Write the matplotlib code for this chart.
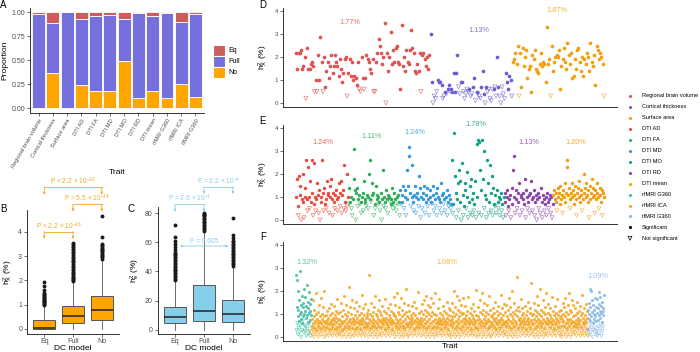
import numpy as np
import matplotlib.pyplot as plt

plt.rcParams['font.family'] = ['Liberation Sans', 'DejaVu Sans']
plt.rcParams['mathtext.default'] = 'regular'

# ---- panel A: proportion of DC model per trait group
traits_a = ['Regional brain volume', 'Cortical thickness', 'Surface area', 'DTI AD', 'DTI FA',
            'DTI MD', 'DTI MO', 'DTI RD', 'DTI mean', 'rfMRI G360', 'rfMRI ICA', 'tfMRI G360']
prop_no = [0.0, 0.365, 0.0, 0.24, 0.18, 0.18, 0.49, 0.105, 0.175, 0.10, 0.255, 0.12]
prop_full = [0.985, 0.525, 1.0, 0.695, 0.785, 0.79, 0.435, 0.885, 0.785, 0.89, 0.64, 0.86]
prop_eq = [0.015, 0.11, 0.0, 0.065, 0.035, 0.03, 0.075, 0.01, 0.04, 0.01, 0.105, 0.02]

# ---- panels B/C: box summaries per DC model
dc_models = ['Eq', 'Full', 'No']
b_q1 = [0.0, 0.26, 0.38]
b_med = [0.02, 0.54, 0.78]
b_q3 = [0.38, 0.93, 1.37]
b_hi = [0.95, 1.93, 2.85]
b_fliers = [
    [1.0, 1.03, 1.06, 1.1, 1.13, 1.17, 1.2, 1.24, 1.28, 1.32, 1.36, 1.4, 1.45, 1.5, 1.62, 1.78, 1.92],
    [1.96, 2.0, 2.05, 2.1, 2.15, 2.2, 2.25, 2.3, 2.36, 2.42, 2.48, 2.55, 2.6, 2.67, 2.74, 2.8,
     2.86, 2.92, 2.98, 3.05, 3.12, 3.18, 3.25, 3.3, 3.36, 3.42, 3.48, 3.52],
    [2.9, 2.95, 3.0, 3.05, 3.1, 3.15, 3.2, 3.25, 3.3, 3.35, 3.4, 3.45, 3.5, 3.8, 4.65],
]
c_q1 = [4.4, 6.0, 5.0]
c_med = [8.5, 12.9, 10.6]
c_q3 = [15.9, 30.8, 20.6]
c_hi = [33.0, 67.0, 43.0]
c_fliers = [
    [34, 35, 36, 37, 38, 39, 40, 41, 42, 43, 44, 45, 46, 47, 48, 49, 50, 51, 52, 53, 55, 57, 59, 61, 64, 72],
    [68, 69, 70, 71, 72, 73, 74, 75, 76, 77, 78, 78.5, 79, 79.5, 80],
    [44, 45, 46, 47, 48, 49, 50, 51, 52, 53, 54, 55, 56, 57, 58, 59, 60, 61, 63, 65, 77],
]
b_pvals = [('P < 2.2 × 10$^{-16}$', 1, 2, 4.01, 3.71), ('P = 5.5 × 10$^{-14}$', 2, 3, 5.14, 4.84),
           ('P < 2.2 × 10$^{-16}$', 1, 3, 5.84, 5.53)]
c_pvals = [('P = 2.2 × 10$^{-4}$', 2, 3, 98.3, 93.3), ('P = 2.6 × 10$^{-4}$', 1, 2, 86.2, 81.1)]

# ---- panels D/E/F: h2X per trait, tenths of %, "o" = not significant
rbv = ("22 15 22 22 23 15 16 20 o2 24 15 15 17 18 16 o5 10 o5 21 10 29 18 o5 20 7 14 18 11 16 21 13 16 "
       "21 18 16 12 19 15 9 13 19 20 o3 13 19 12 18 10 12 11 8 18 o6 o5 20 11 o6 11 21 19 18 15 13 19 o5 "
       "o5 18 22 28 25 22 17 20 35 o0 22 14 20 31 17 23 18 24 25 18 17 6 34 16 20 14 23 18 17 23 32 24 22 "
       "14 13 17 14 22 o5 21 22 19 16 20 15 21")
ct = ("30 9 o0 o3 o2 o5 10 9 9 8 o2 o3 5 o4 6 8 o5 6 5 13 5 13 21 o7 o4 9 9 o5 o2 o4 o6 o5 6 o3 o4 7 11 "
      "o1 5 o4 o3 o2 7 14 4 o0 7 o5 o6 o2 o1 o6 6 o7 o3 20 7 o3 o0 o7 o4 o2 13 9 6 12 10 o3")
sa = ("18 19 22 17 25 o3 22 7 24 16 20 23 11 15 16 5 21 19 23 15 14 13 17 22 16 18 17 9 33 17 19 o3 25 14 "
      "18 20 21 20 23 6 16 19 24 18 15 26 21 17 22 11 12 19 15 23 24 18 14 20 12 19 17 22 20 14 26 18 16 "
      "21 8 25 23 19 22 20 17 o3")
dti_ad = ("10 18 6 o2 19 11 15 o0 9 20 8 o1 14 10 26 9 o4 23 10 o5 17 8 26 12 o2 7 25 10 o4 9 16 11 o3 13 "
          "o0 8 10 26 12 o4 14 7 9 o5 17 11 12 o3 10 15 18 9 o2 12 8 o5 11 13 9 o4 10 16 12 o6 17 o3 11 13 "
          "o5 24 8 o4 20 o6 10")
dti_fa = ("14 o7 8 10 o5 o2 9 31 18 13 o0 12 14 o6 9 11 o7 8 o3 10 12 o4 17 9 8 o6 11 10 o5 20 9 26 o8 11 "
          "16 12 o2 7 o5 15 9 11 10 o7 8 o4 12 o0 9 22 o6 10 8 o5 13 9 o3 11 10 o8 7 9 14 o5 8 12 o6 9 o4 "
          "10 11 o7 8 o2")
dti_md = ("13 o7 8 11 15 o5 10 13 o2 22 9 15 28 32 12 o6 10 24 8 o4 11 15 o3 10 12 9 o6 19 14 o1 10 o5 9 "
          "12 15 o3 8 11 14 o6 9 o2 13 10 8 o7 15 11 o4 9 o6 12 o2 14 10 9 o5 8 16 o3 11 12 o7 9 o4 10 13 "
          "o2 8 o6 11 9 o5 7")
dti_mo = ("26 o3 7 38 19 12 o1 9 16 o4 22 8 17 o0 25 11 o2 6 16 13 o5 21 10 o1 8 15 o3 18 9 o2 12 o4 7 17 "
          "o1 10 33 35 o3 34 22 13 o2 35 18 30 o5 11 9 o1 26 16 o3 8 24 12 o4 19 o2 14 7 o6 11 o3 13 8 o5 "
          "10 o2 9 12 o4 7 o1 10")
dti_rd = ("12 8 o2 10 13 6 o4 9 11 o1 14 7 22 28 10 o3 13 9 o5 12 8 16 o2 11 10 o4 9 12 7 18 o1 13 10 o5 8 "
          "11 o3 12 17 9 o4 10 13 o2 8 11 o0 9 12 o5 10 o3 14 8 o1 11 9 o4 7 10 o2 12 8 o5 9 11 o3 10 o1 7")
dti_mean = ("11 13 9 12 8 o4 14 10 12 7 15 9 11 o3 13 10 16 8 12 26 23 11 14 9 o5 12 16 10 13 7 11 15 9 o2 "
            "12 14 10 17 8 13 11 o4 9 12 20 14 10 16 11 8 13 o1 15 9 12 18 10 14 11 o3 13 9 16 12 10 o5 14 "
            "11 8 13 o2 12 10")
rf_g360 = ("27 o3 13 25 o6 9 o1 20 12 o4 7 16 o2 10 29 o5 14 8 o0 11 18 o3 6 13 o7 9 15 o2 10 21 o5 "
           "o2.5 11.5 17.5 o4.5 8.5 13.5 o0.5 22.5 9.5 o3.5 15.5 6.5 o1.5 12.5 19.5 o5.5 10.5 7.5 o2.5 "
           "14.5 11.5 o0.5 16.5 9.5")
rf_ica = (
    "o2 5 o4 8 o1 16 6 o3 9 o0 4 12 o5 7 o2 10 o6 3 19 o1 8 o4 6 11 o3 5 o0 14 7 o2 9 o5 4 17 o1 6 o3 10 8 o6 5 o2 13 o4 7 o0 9 20 o3 6 "
    "o2.5 6.5 o0.5 9.5 4.5 o3.5 11.5 7.5 o1.5 5.5 o4.5 8.5 12.5 o0.5 3.5 o5.5 6.5 9.5 o2.5 14.5 5.5 o1.5 7.5 o3.5 10.5 4.5 o0.5 8.5 o6.5 5.5 13.5 o2.5 7.5 o4.5 9.5 3.5 o1.5 11.5 6.5 o5.5 8.5 o0.5 4.5 16.5 o3.5 7.5 o2.5 10.5 5.5 o1.5 "
    "o1 8 11 o4 5 o2 7 15 o5 3 o0 9 6 o3 12 o1 4 18 o6 7 o2 10 5 o4 8 o0 14 6 o3 9 o5 11 4 o1 7 22 o2 5 o4 13 8 o0 6 o3 10 o6 4 16 o1 7 "
    "8.5 o4.5 5.5 12.5 o0.5 7.5 o2.5 9.5 3.5 o5.5 6.5 15.5 o1.5 8.5 o3.5 4.5 11.5 o0.5 6.5 o6.5 9.5 5.5 o2.5 13.5 7.5 o4.5 3.5 o1.5 10.5 6.5 o0.5 8.5 18.5 o3.5 5.5 o5.5 7.5 12.5 o2.5 4.5 o1.5 9.5 6.5 o0.5 14.5 o4.5 8.5 5.5 o3.5 10.5 "
    "o4 9 5 o2 12 o0 6 o5 8 27 o3 4 10 o1 7 o6 15 5 o2 9 o4 6 11 o0 8 o3 5 13 o5 7 o1 18 4 o2 10 6 o4 9 o0 12 o6 5 8 o3 16 o1 7 o5 11 "
    "o1.5 7.5 4.5 o3.5 9.5 o0.5 6.5 13.5 o5.5 8.5 o2.5 5.5 11.5 o4.5 7.5 o1.5 3.5 16.5 o6.5 6.5 o0.5 10.5 8.5 o3.5 5.5 o2.5 12.5 7.5 o4.5 4.5 o1.5 9.5 o5.5 6.5 14.5 o0.5 8.5 o3.5 5.5 11.5 o2.5 7.5 o6.5 3.5 10.5 o1.5 6.5 o4.5 9.5 17.5 "
    "6 o2 9 o0 14 5 o4 8 o1 19 6 o3 11 o5 7 4 o2 10 o6 13 o0 5 8 o3 17 o1 6 9 o4 12 5 o2 7 o0 15 o5 10 4 o3 8 o1 21 6 o4 11 o2 5 9 o6 14 o0 "
    "5.5 o0.5 8.5 o3.5 11.5 6.5 o1.5 4.5 o5.5 9.5 7.5 o2.5 13.5 o4.5 5.5 8.5 o0.5 10.5 o6.5 6.5 3.5 o1.5 15.5 o3.5 7.5 9.5 o2.5 4.5 o5.5 12.5 6.5 o0.5 8.5 o4.5 5.5 19.5 o1.5 7.5 o3.5 10.5 4.5 o2.5 6.5 o6.5 11.5 8.5 o0.5 5.5 o4.5 14.5 "
    "7 o3 10 o1 5 16 o4 8 o2 12 6 o5 9 o0 18 4 o3 11 o6 7 o1 14 5 o2 10 o4 8 13 o0 6 o3 17 o5 9 4 o1 11 o2 7 o6 15 o4 5 10 o0 8 o3 19 o1 6 "
    "o3.5 9.5 6.5 o1.5 4.5 o5.5 12.5 7.5 o0.5 8.5 o2.5 5.5 16.5 o4.5 6.5 o3.5 10.5 3.5 o1.5 7.5 o6.5 9.5 o0.5 5.5 13.5 o2.5 8.5 o4.5 6.5 11.5 o1.5 4.5 o3.5 7.5 o5.5 10.5 5.5 o0.5 15.5 8.5 o2.5 6.5 o4.5 9.5 3.5 o1.5 12.5 7.5 o0.5 5.5 "
    "o5 12 o2 7 9 o0 5 15 o4 8 o1 11 6 o3 20 o6 9 4 o2 13 o0 7 o5 10 18 o1 5 o3 8 12 o4 6 o2 16 9 o0 4 o6 11 7 o1 14 o3 5 10 o5 8 o2 17 "
    "10.5 o2.5 6.5 o4.5 8.5 o0.5 13.5 5.5 o3.5 7.5 o1.5 9.5 4.5 o6.5 11.5 o2.5 6.5 17.5 o0.5 8.5 o5.5 5.5 o3.5 10.5 7.5 o1.5 12.5 o4.5 6.5 3.5 o2.5 9.5 o0.5 14.5 5.5 o6.5 8.5 o1.5 7.5 o3.5 11.5 4.5 o5.5 6.5 o0.5 9.5 o2.5 20.5 7.5 o4.5 "
    "4 o0 9 o3 13 6 o1 8 o5 11 o2 16 5 o4 7 o6 10 19 o0 6 o3 12 o1 8 5 o2 15 o5 9 o4 7 11 o0 6 o6 14 o3 4 o1 10 8 o2 18 o5 7 12 o4 5 o0 9 "
    "o0.5 6.5 9.5 o3.5 5.5 o1.5 12.5 8.5 o4.5 4.5 o2.5 10.5 7.5 o5.5 15.5 o0.5 6.5 o3.5 8.5 3.5 o1.5 11.5 o6.5 5.5 9.5 o2.5 13.5 o4.5 7.5 o0.5 6.5 10.5 o3.5 4.5 o1.5 8.5 18.5 o5.5 5.5 o2.5 12.5 7.5 o4.5 9.5 o0.5 6.5 o3.5 14.5 5.5 o1.5 "
    "o2 11 7 o6 5 14 o1 9 o3 6 12 o0 8 o4 17 5 o2 10 o5 7 13 o1 4 o3 9 20 o6 6 o0 11 8 o2 15 o4 5 10 o1 7 o5 12 o3 6 26 o0 9 o2 4 o4 13 8 "
    "7.5 o4.5 11.5 5.5 o2.5 8.5 o0.5 16.5 6.5 o5.5 9.5 o3.5 4.5 12.5 o1.5 7.5 o6.5 10.5 5.5 o2.5 8.5 o4.5 13.5 o0.5 6.5 3.5 o3.5 9.5 o1.5 11.5 7.5 o5.5 5.5 o2.5 15.5 8.5 o0.5 6.5 o4.5 10.5 4.5 o3.5 12.5 o1.5 7.5 23.5 o6.5 9.5 o2.5 5.5 "
    "o1 6 10 o3 8 o5 15 4 o0 12 o2 7 9 o4 18 o6 5 11 o1 8 o3 14 6 o0 10 o5 7 o2 21 5 o4 12 9 o1 6 o3 16 o6 8 11 o0 4 o2 13 7 o5 10 o1 19 6 "
    "o1.5 8.5 5.5 o3.5 10.5 o0.5 7.5 14.5 o5.5 6.5 o2.5 9.5 4.5 o4.5 12.5 o1.5 6.5 o6.5 8.5 17.5 o0.5 5.5 o3.5 11.5 7.5 o2.5 9.5 o4.5 3.5 13.5 o1.5 6.5 o5.5 8.5 o0.5 10.5 5.5 o3.5 7.5 16.5 o2.5 4.5 o4.5 9.5 o6.5 11.5 6.5 o1.5 8.5 o0.5 "
    "o4 9 o2 12 5 o0 8 o3 15 7 o6 10 o1 5 13 o5 9 o2 17 6 o4 11 o0 8 4 o3 14 o1 7 10 o6 5 o2 19 o5 12 8 o0 6 o4 11 16 o3 7 o1 9 o2 14 5 o5 "
    "6.5 o3.5 9.5 o1.5 12.5 5.5 o4.5 7.5 o0.5 10.5 o2.5 15.5 4.5 o5.5 8.5 6.5 o3.5 11.5 o1.5 5.5 o6.5 13.5 7.5 o0.5 9.5 o4.5 4.5 o2.5 10.5 18.5 o1.5 6.5 o3.5 8.5 5.5 o5.5 12.5 o0.5 7.5 o2.5 9.5 o4.5 14.5 6.5 o1.5 3.5 11.5 o3.5 8.5 o0.5")
tf_g360 = ("12 o3 8 15 o1 10 21 o5 7 13 o2 9 20 o4 11 16 o0 6 14 o3 10 8 o6 12 17 o2 9 o4 13 7 o1 "
           "o2.5 10.5 16.5 o0.5 12.5 7.5 o4.5 19.5 9.5 o1.5 14.5 11.5 o3.5 8.5 17.5 o5.5 13.5 10.5 o0.5 "
           "6.5 15.5 o2.5 12.5 9.5 o4.5 11.5 18.5")

trait_colors = {
    'Regional brain volume': '#DE5452', 'Cortical thickness': '#6B5FCF', 'Surface area': '#F5A00F',
    'DTI AD': '#E74C3C', 'DTI FA': '#2EAE5A', 'DTI MD': '#3498DB', 'DTI MO': '#16A085',
    'DTI RD': '#8E44AD', 'DTI mean': '#F39C12', 'rfMRI G360': '#3DBE9F', 'rfMRI ICA': '#F5A623',
    'tfMRI G360': '#85B8E6',
}
d_groups = [('Regional brain volume', rbv), ('Cortical thickness', ct), ('Surface area', sa)]
e_groups = [('DTI AD', dti_ad), ('DTI FA', dti_fa), ('DTI MD', dti_md), ('DTI MO', dti_mo),
            ('DTI RD', dti_rd), ('DTI mean', dti_mean)]
f_groups = [('rfMRI G360', rf_g360), ('rfMRI ICA', rf_ica), ('tfMRI G360', tf_g360)]
d_means = [('1.77%', 350, 22), ('1.13%', 479, 30), ('1.87%', 557, 11)]
e_means = [('1.24%', 323, 143), ('1.11%', 372, 137), ('1.24%', 415, 132), ('1.78%', 476, 124),
           ('1.13%', 529, 143), ('1.20%', 576, 143)]
f_means = [('1.32%', 307, 262), ('1.08%', 447, 262), ('1.09%', 598, 276)]

c_eq, c_full, c_no = '#CD5C5C', '#7570DB', '#FFA500'
c_sky = '#87CEEB'
W, H = 700, 352
fig = plt.figure(figsize=(7, 3.52), dpi=100)


def box(x0, y0, x1, y1):
    return fig.add_axes([x0 / W, 1 - y1 / H, (x1 - x0) / W, (y1 - y0) / H])


def classic(ax, fs=5):
    for s in ['top', 'right']:
        ax.spines[s].set_visible(False)
    for s in ['left', 'bottom']:
        ax.spines[s].set_linewidth(0.7)
        ax.spines[s].set_color('#333333')
    ax.tick_params(labelsize=fs, length=2, width=0.5, color='#333333', labelcolor='#4D4D4D', pad=1.5)


def parse(s):
    toks = s.split()
    vals = np.array([float(t.lstrip('o')) / 10 for t in toks])
    sig = np.array([not t.startswith('o') for t in toks])
    return vals, sig


# A
axA = box(30, 7.5, 204, 112.8)
x = np.arange(len(traits_a))
axA.bar(x, prop_no, 0.9, color=c_no, edgecolor='white', lw=0.6)
axA.bar(x, prop_full, 0.9, bottom=prop_no, color=c_full, edgecolor='white', lw=0.6)
axA.bar(x, prop_eq, 0.9, bottom=np.add(prop_no, prop_full), color=c_eq, edgecolor='white', lw=0.6)
axA.set_xlim(-0.6, 11.6)
axA.set_ylim(-0.05, 1.05)
axA.set_yticks([0, 0.25, 0.5, 0.75, 1.0])
axA.set_yticklabels(['0.00', '0.25', '0.50', '0.75', '1.00'])
axA.set_xticks(x)
axA.set_xticklabels(traits_a, rotation=60, ha='right', rotation_mode='anchor')
classic(axA)
axA.tick_params(axis='x', labelsize=4.1)
axA.set_ylabel('Proportion', fontsize=6, labelpad=2)


# B and C
def boxpanel(ax, q1, med, q3, hi, fliers, fill):
    stats = [dict(q1=q1[i], med=med[i], q3=q3[i], whislo=0, whishi=hi[i], fliers=fliers[i])
             for i in range(3)]
    ax.bxp(stats, positions=[1, 2, 3], widths=0.75, patch_artist=True, showcaps=False,
           boxprops=dict(facecolor=fill, edgecolor='#555555', lw=0.7),
           medianprops=dict(color='#222222', lw=1.1),
           whiskerprops=dict(color='#555555', lw=0.6),
           flierprops=dict(marker='o', mfc='#1A1A1A', mec='none', ms=2.8))
    ax.set_xlim(0.4, 3.6)
    ax.set_xticks([1, 2, 3])
    ax.set_xticklabels(dc_models)
    classic(ax)
    ax.tick_params(axis='x', pad=1)


def bracket(ax, text, a, b, y, tip, col):
    ax.plot([a, b], [y, y], color=col, lw=0.6, clip_on=False)
    for xx in (a, b):
        ax.annotate('', xy=(xx, tip), xytext=(xx, y), annotation_clip=False,
                    arrowprops=dict(arrowstyle='-|>', color=col, lw=0.6, mutation_scale=3,
                                    shrinkA=0, shrinkB=0))
    ax.text((a + b) / 2, y, text, color=col, fontsize=4.8, ha='center', va='bottom', clip_on=False)


axB = box(27, 210, 119, 334)
boxpanel(axB, b_q1, b_med, b_q3, b_hi, b_fliers, c_no)
axB.set_ylim(-0.21, 4.9)
axB.set_yticks([0, 1, 2, 3, 4])
axB.set_ylabel('h$^2_X$ (%)', fontsize=6, labelpad=2)
for p in b_pvals:
    bracket(axB, *p, '#F5A623')

axC = box(157.6, 207.5, 250.4, 334)
boxpanel(axC, c_q1, c_med, c_q3, c_hi, c_fliers, c_sky)
axC.set_ylim(-3, 84)
axC.set_yticks([0, 20, 40, 60, 80])
axC.set_ylabel('h$^2_e$ (%)', fontsize=6, labelpad=2)
for p in c_pvals:
    bracket(axC, *p, c_sky)
axC.annotate('', xy=(1.17, 57.5), xytext=(2.83, 57.5), annotation_clip=False,
             arrowprops=dict(arrowstyle='<|-|>', color=c_sky, lw=0.6, mutation_scale=3,
                             shrinkA=0, shrinkB=0))
axC.text(2.0, 58.5, 'P = 0.005', color=c_sky, fontsize=4.8, ha='center', va='bottom')


# D, E, F
def manhattan(ax, groups, s_sig, s_ns, a_sig):
    start = 1
    for name, data in groups:
        vals, sig = parse(data)
        xs = np.arange(start, start + len(vals))
        c = trait_colors[name]
        ax.scatter(xs[~sig], vals[~sig], s=s_ns, marker='v', facecolors='none', edgecolors=c,
                   linewidths=0.5, alpha=0.7)
        ax.scatter(xs[sig], vals[sig], s=s_sig, marker='o', color=c, linewidths=0, alpha=a_sig)
        start += len(vals)
    n = start - 1
    pad = 0.043 * (n - 1)
    ax.set_xlim(1 - pad, n + pad)
    ax.set_ylim(-0.176, 4.15)
    ax.set_yticks([0, 1, 2, 3, 4])
    ax.set_xticks([])
    classic(ax, fs=4.5)
    ax.set_ylabel('h$^2_X$ (%)', fontsize=6, labelpad=3)


axD = box(283, 8, 617, 107)
manhattan(axD, d_groups, 7, 9, 1)
axE = box(283, 125, 617, 224)
manhattan(axE, e_groups, 6, 8, 1)
axF = box(283, 242, 617, 341)
manhattan(axF, f_groups, 5, 6, 0.85)

# overlay with labels, legends and annotations in pixel space
ov = fig.add_axes([0, 0, 1, 1])
ov.set_xlim(0, W)
ov.set_ylim(H, 0)
ov.axis('off')
for lab, xx, yy in [('A', 3, 5), ('B', 3, 209), ('C', 131, 209), ('D', 263, 5), ('E', 263, 121), ('F', 263, 237)]:
    ov.text(xx, yy, lab, fontsize=7, ha='center', va='center')
ov.text(117, 172, 'Trait', fontsize=6, ha='center', va='center')
ov.text(450, 347, 'Trait', fontsize=6, ha='center', va='center')
ov.text(73, 348.5, 'DC model', fontsize=6, ha='center', va='center')
ov.text(204, 348.5, 'DC model', fontsize=6, ha='center', va='center')
for i, (lab, col) in enumerate([('Eq', c_eq), ('Full', c_full), ('No', c_no)]):
    yy = 50.7 + 11 * i
    ov.add_patch(plt.Rectangle((213, yy - 5.5), 12, 11, facecolor=col, edgecolor='white', lw=0.8))
    ov.text(228, yy, lab, fontsize=5, va='center')

for groups, means in [(d_groups, d_means), (e_groups, e_means), (f_groups, f_means)]:
    for (name, _), (txt, xx, yy) in zip(groups, means):
        ov.text(xx, yy, txt, color=trait_colors[name], alpha=0.85, fontsize=5.3, ha='center', va='center')

leg_names = list(trait_colors)
for i, name in enumerate(leg_names):
    yy = 96 + 10.95 * i
    ov.scatter([630], [yy], s=5, color=trait_colors[name], linewidths=0)
    ov.text(642, yy, name, fontsize=4.1, va='center')
ov.scatter([630], [96 + 10.95 * 12], s=5, color='black', linewidths=0)
ov.text(642, 96 + 10.95 * 12, 'Significant', fontsize=4.1, va='center')
ov.scatter([630], [96 + 10.95 * 13], s=8, marker='v', facecolors='none', edgecolors='black', linewidths=0.5)
ov.text(642, 96 + 10.95 * 13, 'Not significant', fontsize=4.1, va='center')

fig.savefig('out.png', dpi=100)
